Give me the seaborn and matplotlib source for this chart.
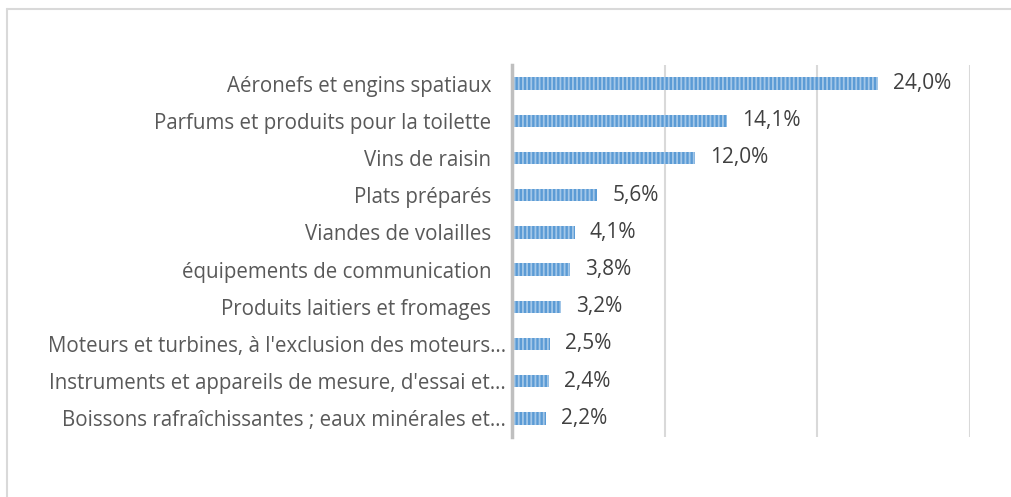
import matplotlib
matplotlib.use("Agg")
import matplotlib.pyplot as plt
from matplotlib.lines import Line2D
from matplotlib.transforms import ScaledTranslation
import seaborn as sns
import pandas as pd

categories = [
    "Aéronefs et engins spatiaux",
    "Parfums et produits pour la toilette",
    "Vins de raisin",
    "Plats préparés",
    "Viandes de volailles",
    "équipements de communication",
    "Produits laitiers et fromages",
    "Moteurs et turbines, à l'exclusion des moteurs…",
    "Instruments et appareils de mesure, d'essai et…",
    "Boissons rafraîchissantes ; eaux minérales et…",
]
shares = [24.0, 14.1, 12.0, 5.6, 4.1, 3.8, 3.2, 2.5, 2.4, 2.2]
value_labels = ["24,0%", "14,1%", "12,0%", "5,6%", "4,1%", "3,8%", "3,2%", "2,5%", "2,4%", "2,2%"]

df = pd.DataFrame({"cat": categories, "share": shares})

sns.set_style("white")
plt.rcParams["font.family"] = ["Open Sans", "DejaVu Sans"]
plt.rcParams["hatch.linewidth"] = 1.3

fig = plt.figure(figsize=(10.11, 4.97), dpi=100)
ax = fig.add_axes([512 / 1011, 1 - 437 / 497, (970 - 512) / 1011, (437 - 65) / 497])

sns.barplot(data=df, x="share", y="cat", ax=ax, color="#5B9BD5", width=0.33,
            saturation=1, edgecolor="#A3C7E8", linewidth=0, hatch="||||")

ax.set_xlim(0, 30)
ax.set_ylim(9.5, -0.5)
ax.set_xticks([0, 10, 20, 30])
ax.set_xticklabels([])
ax.tick_params(axis="x", length=0)
ax.tick_params(axis="y", length=0, pad=15, labelsize=14.8, labelcolor="#595959")
ax.xaxis.grid(True, color="#D9D9D9", linewidth=1.5)
ax.set_axisbelow(True)
ax.set_xlabel("")
ax.set_ylabel("")
for s in ["top", "right", "bottom"]:
    ax.spines[s].set_visible(False)
ax.spines["left"].set_color("#BFBFBF")
ax.spines["left"].set_linewidth(2.5)
ax.spines["left"].set_zorder(5)

# truncated labels sit closer to the axis, like in the original
for lab in ax.get_yticklabels():
    if lab.get_text().endswith("…"):
        lab.set_transform(lab.get_transform() + ScaledTranslation(0.15, 0, fig.dpi_scale_trans))

for i, (v, lab) in enumerate(zip(shares, value_labels)):
    ax.annotate(lab, (v, i), xytext=(15, 0), textcoords="offset pixels",
                va="center", ha="left", fontsize=15, color="#404040")

# chart frame (only left and top edges visible)
fig.add_artist(Line2D([7 / 1011, 7 / 1011], [0, 1 - 9 / 497], color="#D9D9D9", linewidth=1.5))
fig.add_artist(Line2D([7 / 1011, 1], [1 - 9 / 497, 1 - 9 / 497], color="#D9D9D9", linewidth=1.5))

fig.savefig("out.png", dpi=100)
